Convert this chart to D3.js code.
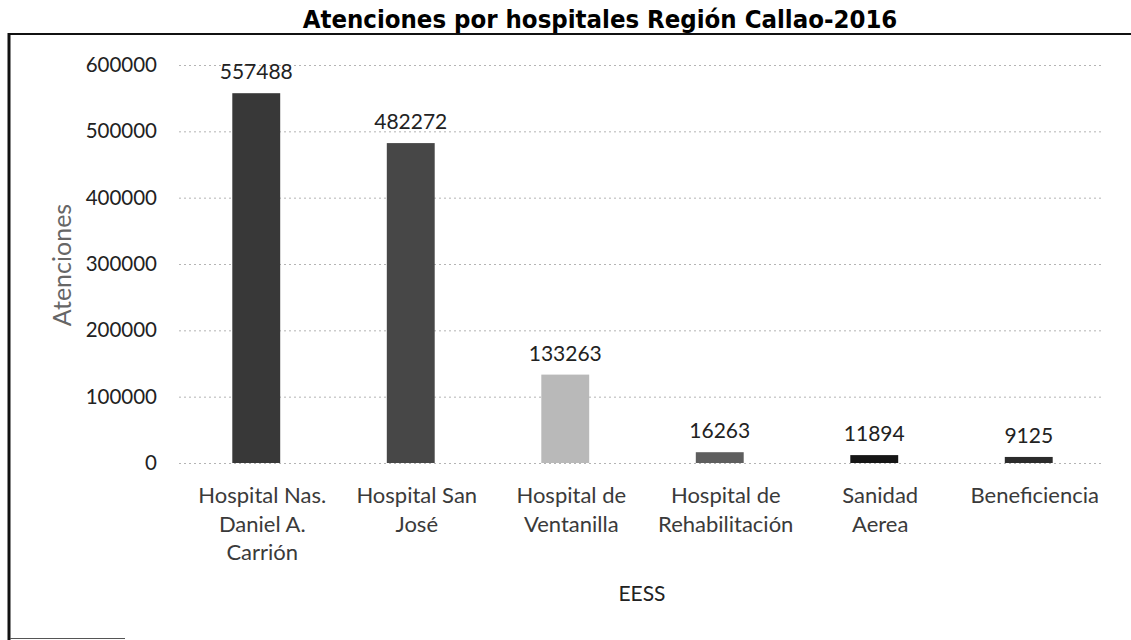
<!DOCTYPE html>
<html>
<head>
<meta charset="utf-8">
<script src="https://cdn.jsdelivr.net/npm/d3@7"></script>
<style>
  body { margin: 0; background: #fff; }
  svg { display: block; }
  .tick text { font-family: Lato, 'Open Sans', sans-serif; }
</style>
</head>
<body>
<div class="container"></div>
<script>
// Data
var categories = ['Hospital Nas. Daniel A. Carrión', 'Hospital San José', 'Hospital de Ventanilla',
                  'Hospital de Rehabilitación', 'Sanidad Aerea', 'Beneficiencia'];
var values = [557488, 482272, 133263, 16263, 11894, 9125];
var tickLines = [['Hospital Nas.', 'Daniel A.', 'Carrión'], ['Hospital San', 'José'], ['Hospital de', 'Ventanilla'],
                 ['Hospital de', 'Rehabilitación'], ['Sanidad', 'Aerea'], ['Beneficiencia']];
var yTicks = [0, 100000, 200000, 300000, 400000, 500000, 600000];

// Config
var WIDTH = 1131;
var HEIGHT = 640;
var BAR_COLORS = ['#383838', '#474747', '#b9b9b9', '#5e5e5e', '#161616', '#2c2c2c'];
var FONT = "Lato, 'Open Sans', sans-serif";

var svg = d3.select('.container').append('svg')
    .attr('width', WIDTH)
    .attr('height', HEIGHT);

// Frame (scanned page border)
svg.append('line').attr('x1', 8).attr('y1', 34).attr('x2', WIDTH).attr('y2', 34)
    .attr('stroke', '#111').attr('stroke-width', 2);
svg.append('line').attr('x1', 9).attr('y1', 33).attr('x2', 9).attr('y2', HEIGHT)
    .attr('stroke', '#111').attr('stroke-width', 3);
svg.append('line').attr('x1', 10).attr('y1', 638.5).attr('x2', 125).attr('y2', 638.5)
    .attr('stroke', '#555').attr('stroke-width', 1);

// Title
svg.append('text')
    .attr('x', 600)
    .attr('y', 28)
    .attr('text-anchor', 'middle')
    .style('font-family', "'DejaVu Sans Condensed', 'DejaVu Sans', sans-serif")
    .style('font-weight', 'bold')
    .style('font-size', '25.5px')
    .attr('fill', '#000')
    .text('Atenciones por hospitales Región Callao-2016');

// Scales
var xScale = d3.scaleBand()
    .domain(categories)
    .range([179, 1106])
    .paddingInner(0.69)
    .paddingOuter(0.345);

var yScale = d3.scaleLinear()
    .domain([0, 600000])
    .range([463, 65]);

// Gridlines (dotted, faint)
svg.append('g')
    .selectAll('line')
    .data(yTicks)
    .enter().append('line')
    .attr('x1', 179)
    .attr('x2', 1103)
    .attr('y1', function(d) { return yScale(d) + 0.5; })
    .attr('y2', function(d) { return yScale(d) + 0.5; })
    .attr('stroke', '#b4b4b4')
    .attr('stroke-width', 1)
    .attr('stroke-dasharray', '2,3');

// Y axis, no domain line
var yAxis = svg.append('g')
    .attr('transform', 'translate(162,0)')
    .call(d3.axisLeft(yScale).tickValues(yTicks).tickSize(0).tickPadding(5).tickFormat(d3.format('d')));
yAxis.select('.domain').remove();
yAxis.selectAll('text')
    .style('font-size', '20.5px')
    .attr('fill', '#222');

// Y axis title
svg.append('text')
    .attr('transform', 'translate(71,265) rotate(-90)')
    .attr('text-anchor', 'middle')
    .style('font-family', FONT)
    .style('font-size', '25px')
    .attr('fill', '#666')
    .text('Atenciones');

// Bars
svg.append('g')
    .selectAll('rect')
    .data(values)
    .enter().append('rect')
    .attr('x', function(d, i) { return xScale(categories[i]); })
    .attr('y', function(d) { return yScale(d); })
    .attr('width', xScale.bandwidth())
    .attr('height', function(d) { return yScale(0) - yScale(d); })
    .attr('fill', function(d, i) { return BAR_COLORS[i]; });

// Value labels above bars
svg.append('g')
    .selectAll('text')
    .data(values)
    .enter().append('text')
    .attr('x', function(d, i) { return xScale(categories[i]) + xScale.bandwidth() / 2; })
    .attr('y', function(d) { return yScale(d) - 14; })
    .attr('text-anchor', 'middle')
    .style('font-family', FONT)
    .style('font-size', '21px')
    .attr('fill', '#222')
    .text(function(d) { return d; });

// Category labels, wrapped as in the original
var catLabels = svg.append('g')
    .selectAll('text')
    .data(categories)
    .enter().append('text')
    .attr('x', function(d) { return xScale(d) + xScale.bandwidth() / 2 + 6; })
    .attr('y', 503)
    .attr('text-anchor', 'middle')
    .style('font-family', FONT)
    .style('font-size', '22px')
    .attr('fill', '#3a3a3a');

catLabels.each(function(d, i) {
  var t = d3.select(this);
  tickLines[i].forEach(function(line, j) {
    t.append('tspan')
      .attr('x', t.attr('x'))
      .attr('dy', j == 0 ? 0 : 28.5)
      .text(line);
  });
});

// X axis title
svg.append('text')
    .attr('x', 642)
    .attr('y', 601)
    .attr('text-anchor', 'middle')
    .style('font-family', FONT)
    .style('font-size', '21px')
    .attr('fill', '#222')
    .text('EESS');
</script>
</body>
</html>
